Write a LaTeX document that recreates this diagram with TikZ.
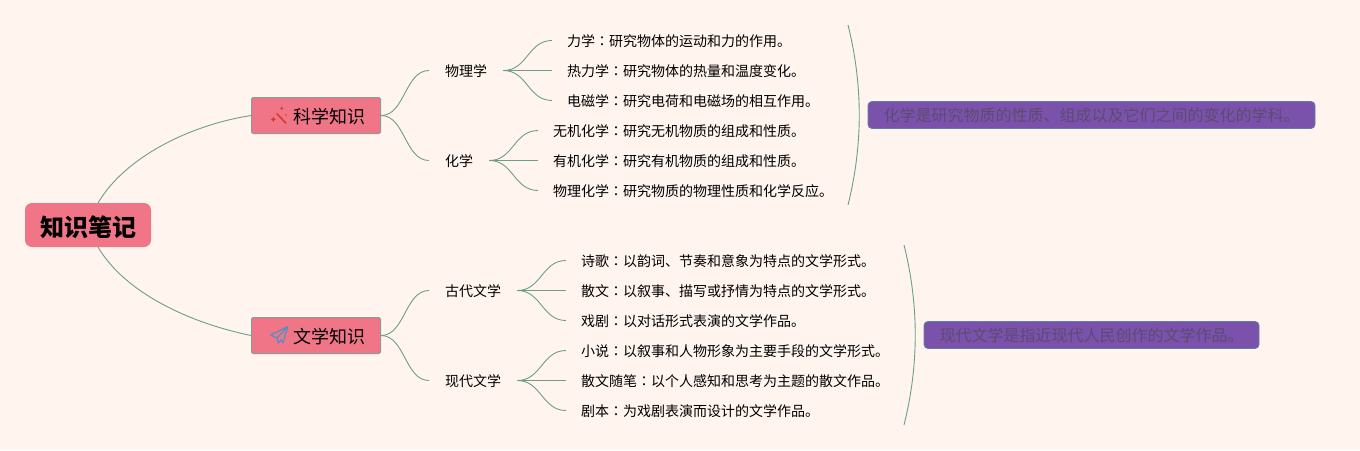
\documentclass[tikz,border=0pt]{standalone}
\usepackage{fontspec}
\setmainfont{Noto Sans CJK SC}
\newfontfamily\tcfont{Noto Sans CJK TC}
\newcommand{\cl}{{\tcfont ：}}
\definecolor{bgc}{HTML}{FFF4EE}
\definecolor{pinkc}{HTML}{EF7587}
\definecolor{linec}{HTML}{6E9F86}
\definecolor{edgec}{HTML}{8F9A90}
\definecolor{purplec}{HTML}{7B52AB}
\definecolor{purpletext}{HTML}{5D4A73}
\definecolor{purpleedge}{HTML}{5F7FA0}
\definecolor{wandc}{HTML}{D9362E}
\definecolor{planec}{HTML}{4F8FCB}
\tikzset{
  rootbox/.style={fill=pinkc,rounded corners=7pt,minimum width=126pt,minimum height=44pt,inner sep=0pt,text height=23pt,text depth=.8pt,font=\fontsize{24}{24}\selectfont\bfseries,text=black},
  topicbox/.style={fill=pinkc,draw=edgec,line width=1pt,rounded corners=1.5pt,minimum width=129pt,minimum height=36pt,inner sep=0pt,text height=17pt,text depth=1.3pt,font=\fontsize{18}{18}\selectfont,text=black},
  subbox/.style={anchor=west,inner xsep=16pt,inner ysep=0pt,text height=13pt,text depth=.4pt,font=\fontsize{14}{14}\selectfont,text=black},
  leafbox/.style={anchor=west,inner xsep=15pt,inner ysep=0pt,text height=13pt,text depth=.4pt,font=\fontsize{14}{14}\selectfont,text=black},
  notebox/.style={fill=purplec,draw=purpleedge,line width=.8pt,rounded corners=4pt,minimum height=27pt,inner sep=0pt,font=\fontsize{16}{16}\selectfont,text=purpletext},
  link/.style={draw=linec,line width=.9pt},
  plane/.style={draw=planec,line width=1.2pt,line join=round}
}
\newcommand{\hconn}[2]{\draw[link] (#1) .. controls ++(24,0) and ($(#2)+(-24,0)$) .. (#2);}
\usetikzlibrary{calc}
\begin{document}
\begin{tikzpicture}[x=1pt,y=-1pt]
\useasboundingbox (0,0) rectangle (1360,450);
\fill[bgc] (0,0) rectangle (1360,450);

\node[rootbox] (root) at (88,225) {知识笔记};
\node[topicbox] (sci) at (316,115.5) {\hspace*{26pt}科学知识};
\node[topicbox] (lit) at (316,335.5) {\hspace*{26pt}文学知识};

\coordinate (rootT) at (98,203);
\coordinate (rootB) at (98,247);
\draw[link] (rootT) .. controls (125,157) and (190,125) .. (sci.west);
\draw[link] (rootB) .. controls (125,293) and (190,323) .. (lit.west);

\node[subbox] (phy) at (429,70.5) {物理学};
\node[subbox] (chem) at (429,160.5) {化学};
\node[subbox] (old) at (429,290.5) {古代文学};
\node[subbox] (new) at (429,380.5) {现代文学};

\node[leafbox] (p1) at (552,40.5) {力学\cl 研究物体的运动和力的作用。};
\node[leafbox] (p2) at (552,70.5) {热力学\cl 研究物体的热量和温度变化。};
\node[leafbox] (p3) at (552,100.5) {电磁学\cl 研究电荷和电磁场的相互作用。};
\node[leafbox] (c1) at (538,130.5) {无机化学\cl 研究无机物质的组成和性质。};
\node[leafbox] (c2) at (538,160.5) {有机化学\cl 研究有机物质的组成和性质。};
\node[leafbox] (c3) at (538,190.5) {物理化学\cl 研究物质的物理性质和化学反应。};
\node[leafbox] (o1) at (566,260.5) {诗歌\cl 以韵词、节奏和意象为特点的文学形式。};
\node[leafbox] (o2) at (566,290.5) {散文\cl 以叙事、描写或抒情为特点的文学形式。};
\node[leafbox] (o3) at (566,320.5) {戏剧\cl 以对话形式表演的文学作品。};
\node[leafbox] (n1) at (566,350.5) {小说\cl 以叙事和人物形象为主要手段的文学形式。};
\node[leafbox] (n2) at (566,380.5) {散文随笔\cl 以个人感知和思考为主题的散文作品。};
\node[leafbox] (n3) at (566,410.5) {剧本\cl 为戏剧表演而设计的文学作品。};

\hconn{sci.east}{phy.west}
\hconn{sci.east}{chem.west}
\hconn{lit.east}{old.west}
\hconn{lit.east}{new.west}
\hconn{phy.east}{p1.west}
\hconn{phy.east}{p2.west}
\hconn{phy.east}{p3.west}
\hconn{chem.east}{c1.west}
\hconn{chem.east}{c2.west}
\hconn{chem.east}{c3.west}
\hconn{old.east}{o1.west}
\hconn{old.east}{o2.west}
\hconn{old.east}{o3.west}
\hconn{new.east}{n1.west}
\hconn{new.east}{n2.west}
\hconn{new.east}{n3.west}

\node[notebox,minimum width=447pt] (note1) at (1091.5,115) {化学是研究物质的性质、组成以及它们之间的变化的学科。};
\node[notebox,minimum width=335pt] (note2) at (1091.5,335) {现代文学是指近现代人民创作的文学作品。};

\coordinate (b1t) at (848,25);
\coordinate (b1b) at (848,205);
\coordinate (b2t) at (904,245);
\coordinate (b2b) at (904,425);
\draw[link] (b1t) .. controls (863,85) and (863,145) .. (b1b);
\draw[link] (b2t) .. controls (919,305) and (919,365) .. (b2b);

% wand icon
\draw[draw=wandc,line width=1.5pt] (276.7,113.5) -- (286,123.3);
\fill[wandc] (273.3,116.6) -- (274.2,118.6) -- (276,119.4) -- (274.2,120.2) -- (273.3,122.2) -- (272.4,120.2) -- (270.6,119.4) -- (272.4,118.6) -- cycle;
\fill[wandc] (281.7,106.4) -- (282.3,107.7) -- (283.6,108.3) -- (282.3,108.9) -- (281.7,110.2) -- (281.1,108.9) -- (279.8,108.3) -- (281.1,107.7) -- cycle;
\fill[wandc] (286,115) circle (.8pt);

% paper plane icon
\draw[plane] (287.7,326.7) -- (270.7,335) -- (277,338) -- (278.5,343) -- (281,339.8) -- (283,342.7) -- cycle;
\draw[plane] (277,338) -- (287.7,326.7);
\end{tikzpicture}
\end{document}
